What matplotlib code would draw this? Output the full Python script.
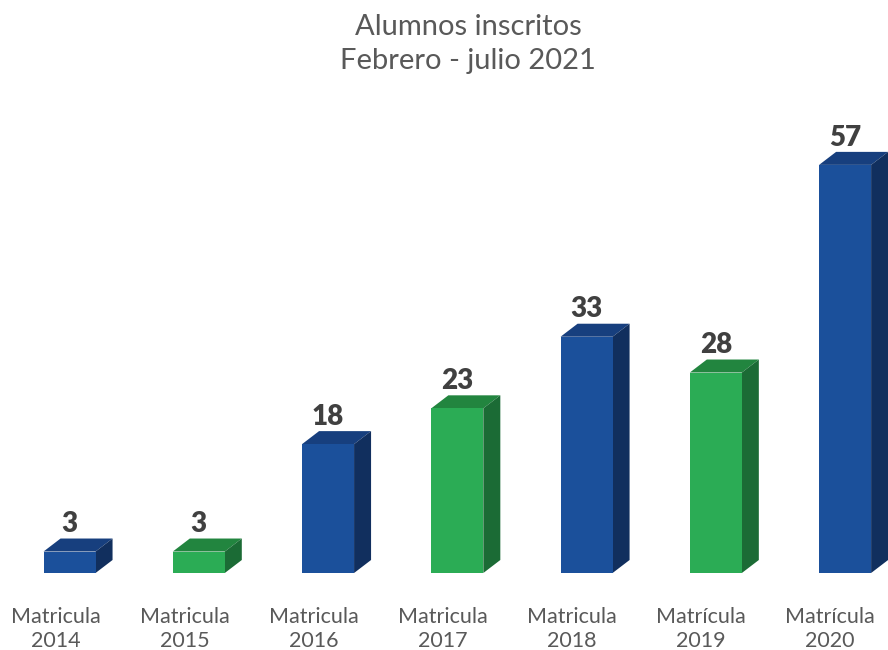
import matplotlib
matplotlib.use("Agg")
import matplotlib.pyplot as plt
from matplotlib.patches import Polygon

categories = ["Matricula\n2014", "Matricula\n2015", "Matricula\n2016", "Matricula\n2017",
              "Matricula\n2018", "Matrícula\n2019", "Matrícula\n2020"]
values = [3, 3, 18, 23, 33, 28, 57]
series_color = ["blue", "green", "blue", "green", "blue", "green", "blue"]

palette = {
    "blue": {"front": "#1B509B", "top": "#173F7E", "side": "#112F5E"},
    "green": {"front": "#2BAC55", "top": "#22853F", "side": "#1B6B35"},
}

plt.rcParams['font.family'] = ['Lato', 'DejaVu Sans']

W, H = 888, 650
fig = plt.figure(figsize=(W / 100, H / 100), dpi=100)
base_px = 573
px_per_unit = 7.16
cat0_px, cat_step = 56, 129
ax = fig.add_axes([0, (H - base_px) / H, 1, base_px / H])
ax.set_xlim(-cat0_px / cat_step, (W - cat0_px) / cat_step)
ax.set_ylim(0, base_px / px_per_unit)
ax.axis("off")

off = 0.105
bw = 52 / cat_step
dx = 17 / cat_step
dy = 13 / px_per_unit

for i, (v, c) in enumerate(zip(values, series_color)):
    col = palette[c]
    xc = i + off + 0.002 * i
    x0, x1 = xc - bw / 2, xc + bw / 2
    ax.bar(xc, v, width=bw, color=col["front"], edgecolor="none", zorder=3)
    top = Polygon([(x0, v), (x1, v), (x1 + dx, v + dy), (x0 + dx, v + dy)],
                  closed=True, facecolor=col["top"], edgecolor="none", zorder=2, clip_on=False)
    side = Polygon([(x1, 0), (x1 + dx, dy), (x1 + dx, v + dy), (x1, v)],
                   closed=True, facecolor=col["side"], edgecolor="none", zorder=2, clip_on=False)
    ax.add_patch(top)
    ax.add_patch(side)
    ax.annotate(str(v), xy=(xc, v + dy), xytext=(0, 4.5), textcoords="offset points",
                ha="center", va="baseline", fontsize=20, fontweight="heavy", color="#404040")
    ax.annotate(categories[i], xy=(i, 0), xytext=(0, -24.5), textcoords="offset points",
                ha="center", va="top", fontsize=15.5, color="#595959", linespacing=1.25,
                annotation_clip=False)

fig.text(468 / W, 1 - 14 / H, "Alumnos inscritos\nFebrero - julio 2021", ha="center", va="top",
         fontsize=21, color="#595959", linespacing=1.36)

fig.savefig("out.png", dpi=100, facecolor="white")
